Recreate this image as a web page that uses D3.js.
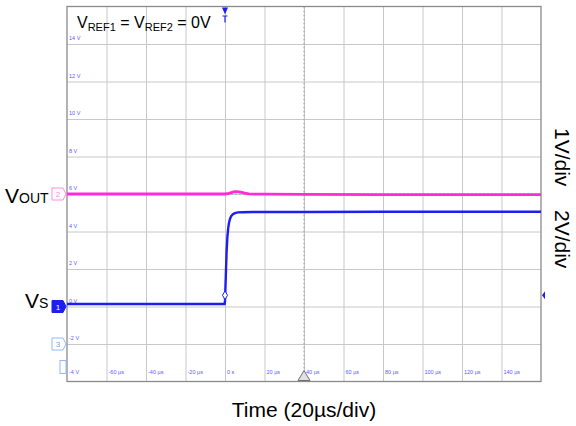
<!DOCTYPE html>
<html><head><meta charset="utf-8">
<script src="https://cdn.jsdelivr.net/npm/d3@7"></script>
<style>body{margin:0;background:#fff}svg{display:block}text{font-family:"Liberation Sans",Arial,sans-serif}</style>
</head><body><svg id="c" width="576" height="426"></svg>
<script>
// ---- data ----
const xTickValues = [-60,-40,-20,0,20,40,60,80,100,120,140];
const xTickLabels = ["-60 µs","-40 µs","-20 µs","0 s","20 µs","40 µs","60 µs","80 µs","100 µs","120 µs","140 µs"];
const yTickValues = [14,12,10,8,6,4,2,0,-2,-4];
const yTickLabels = ["14 V","12 V","10 V","8 V","6 V","4 V","2 V","0 V","-2 V","-4 V"];
// Vs (CH1, blue) time in µs, displayed volts
const vsTime = [-80,-40,-0.2,0,0.4,0.8,1.2,1.6,2.0,2.6,3.2,4.0,5.0,6.5,9,14,40,80,120,160];
const vsVal  = [0.13,0.13,0.13,0.3,1.6,2.9,3.7,4.15,4.45,4.7,4.83,4.92,4.98,5.02,5.03,5.04,5.04,5.05,5.05,5.05];
// Vout (CH2, magenta)
const voTime = [-80,-40,-1,0,2,4,5,6,8,10,12,15,20,40,80,120,160];
const voVal  = [6.0,6.0,6.0,6.0,6.03,6.1,6.13,6.13,6.1,6.05,6.01,5.99,5.99,5.98,5.97,5.97,5.97];
const diamond = {t:0, v:0.6};
const trigLevel = 0.6;

const svg = d3.select("#c");
const L=67, R=541, T=6.5, B=381.5;
const x = d3.scaleLinear().domain([-80,160]).range([L,R]);
const y = d3.scaleLinear().domain([-4,16]).range([B,T]);
const blue="#1e1ef0", pink="#ff2bd6", lab="#5a5aff", lb="#8fb8ff";

// grid
svg.append("g").attr("transform",`translate(0,${B})`)
  .call(d3.axisBottom(x).tickValues(d3.range(-60,160,20)).tickSize(-(B-T)).tickFormat(""))
  .call(g=>{g.select(".domain").remove();g.selectAll("line").attr("stroke","#c8c8c8").attr("stroke-width",1);});
svg.append("g").attr("transform",`translate(${L},0)`)
  .call(d3.axisLeft(y).tickValues(d3.range(-2,16,2)).tickSize(-(R-L)).tickFormat(""))
  .call(g=>{g.select(".domain").remove();g.selectAll("line").attr("stroke","#c8c8c8").attr("stroke-width",1);});
// center axes dashed
svg.append("line").attr("x1",x(40)).attr("x2",x(40)).attr("y1",T).attr("y2",B).attr("stroke","#a0a0a0").attr("stroke-dasharray","2,2");
svg.append("line").attr("x1",L).attr("x2",R).attr("y1",y(6)).attr("y2",y(6)).attr("stroke","#a0a0a0").attr("stroke-dasharray","2,2");
// border
svg.append("rect").attr("x",L).attr("y",T).attr("width",R-L).attr("height",B-T).attr("fill","none").attr("stroke","#8a8a8a").attr("stroke-width",1.3);

// tick labels
svg.append("g").selectAll("text").data(xTickValues).join("text")
  .attr("x",d=>x(d)+2).attr("y",B-8).attr("font-size",5.5).attr("fill",lab).text((d,i)=>xTickLabels[i]);
svg.append("g").selectAll("text").data(yTickValues).join("text")
  .attr("x",L+2).attr("y",d=>d===-4?B-8:y(d)-4).attr("font-size",5.5).attr("fill",lab).text((d,i)=>yTickLabels[i]);

// traces
const line = d3.line().x(d=>x(d[0])).y(d=>y(d[1]));
svg.append("path").datum(voTime.map((t,i)=>[t,voVal[i]])).attr("d",line).attr("fill","none").attr("stroke",pink).attr("stroke-width",2.8);
svg.append("path").datum(vsTime.map((t,i)=>[t,vsVal[i]])).attr("d",line).attr("fill","none").attr("stroke",blue).attr("stroke-width",2.4);
// diamond
svg.append("path").attr("d",d3.symbol(d3.symbolDiamond,22)()).attr("transform",`translate(${x(diamond.t)},${y(diamond.v)})`)
  .attr("fill","#fff").attr("stroke",blue).attr("stroke-width",1);

// trigger markers
const tx=x(0);
svg.append("path").attr("d",`M${tx-3},${T+1}L${tx+3},${T+1}L${tx},${T+8}Z`).attr("fill",blue);
svg.append("path").attr("d",`M${tx-2.5},${T+9.5}L${tx+2.5},${T+9.5}M${tx},${T+9.5}L${tx},${T+16}`).attr("stroke",blue).attr("stroke-width",1.2);
svg.append("path").attr("d",`M${R+1},${y(trigLevel)}L${R+4},${y(trigLevel)-4}L${R+4},${y(trigLevel)+4}Z`).attr("fill",blue);
// bottom center triangle
const cx=x(40);
svg.append("path").attr("d",`M${cx-6},${B-1}L${cx+6},${B-1}L${cx},${B-11}Z`).attr("fill","#e0e0e0").attr("stroke","#707070").attr("stroke-width",1);

// channel markers on left
function marker(yy,stroke,fill,txt,tcol){
  svg.append("path").attr("d",`M${L-15},${yy-6}L${L-4},${yy-6}L${L-1},${yy}L${L-4},${yy+6}L${L-15},${yy+6}Z`)
    .attr("fill",fill).attr("stroke",stroke).attr("stroke-width",1);
  svg.append("text").attr("x",L-9).attr("y",yy+3).attr("text-anchor","middle").attr("font-size",8).attr("fill",tcol).text(txt);
}
marker(y(6),"#ff8ae6","#fff","2","#ff8ae6");
marker(y(0),blue,blue,"1","#fff");
marker(y(-2),lb,"#fff","3","#6fa0ff");
svg.append("rect").attr("x",L-7).attr("y",B-21).attr("width",6).attr("height",13).attr("fill","#fff").attr("stroke",lb);

// big labels
const t1=svg.append("text").attr("x",5).attr("y",203).attr("font-size",21).attr("fill","#000");
t1.append("tspan").text("V");
t1.append("tspan").attr("font-size",14).text("OUT");
const t2=svg.append("text").attr("x",25).attr("y",308).attr("font-size",21).attr("fill","#000");
t2.append("tspan").text("V");
t2.append("tspan").attr("font-size",14).text("S");
const t3=svg.append("text").attr("x",77).attr("y",28).attr("font-size",16).attr("fill","#000");
t3.append("tspan").text("V");
t3.append("tspan").attr("font-size",11).attr("dy",3).text("REF1");
t3.append("tspan").attr("dy",-3).text(" = V");
t3.append("tspan").attr("font-size",11).attr("dy",3).text("REF2");
t3.append("tspan").attr("dy",-3).text(" = 0V");

svg.append("text").attr("transform","translate(555,128) rotate(90)").attr("font-size",21).text("1V/div");
svg.append("text").attr("transform","translate(555,210) rotate(90)").attr("font-size",21).text("2V/div");
svg.append("text").attr("x",304).attr("y",417).attr("text-anchor","middle").attr("font-size",21).text("Time (20µs/div)");
</script></body></html>
